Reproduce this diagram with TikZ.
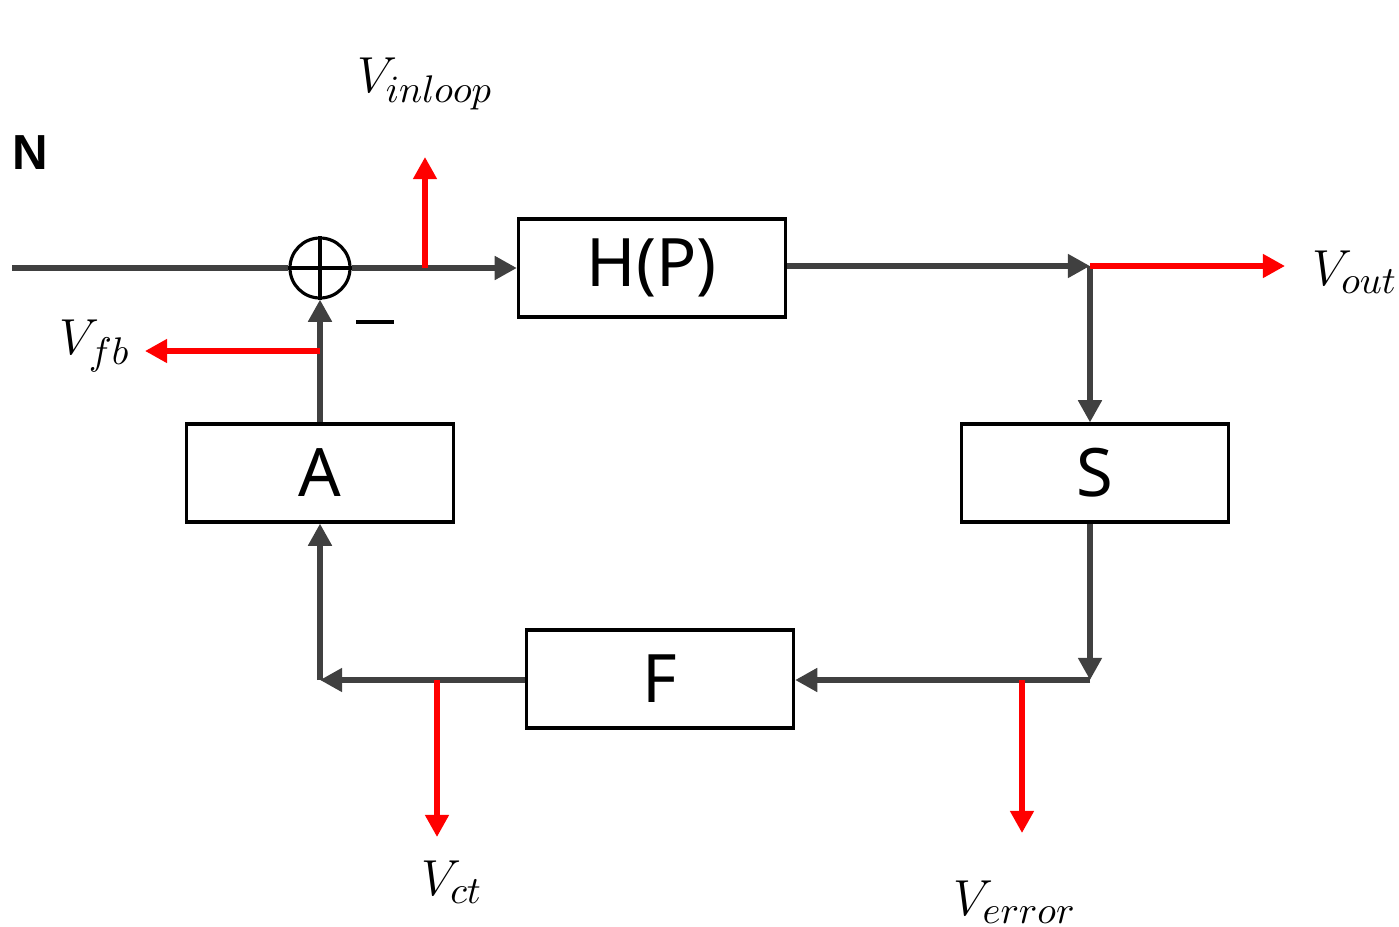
\documentclass[tikz,border=0pt]{standalone}
\usepackage{amsmath}
\usepackage{fontspec}
\setsansfont{Noto Sans}
\newfontfamily\nfont{Liberation Sans}
\usepackage{xcolor}
\usetikzlibrary{arrows.meta,positioning}

\definecolor{wiregray}{HTML}{404040}

\begin{document}
\begin{tikzpicture}[
    x=0.01cm, y=-0.01cm,
    >={Triangle[length=6.3pt,width=6.5pt]},
    every node/.style={font=\fontsize{15}{18}\selectfont},
    block/.style={draw,line width=0.9pt,minimum width=2.67cm,minimum height=0.98cm,
        font=\fontsize{19}{23}\selectfont\sffamily},
    wire/.style={draw=wiregray,line width=1.5pt},
    tap/.style={draw=red,line width=1.5pt}
]
\useasboundingbox (0,0) rectangle (1399,927);

% blocks
\node[block] (hp) at (652,268) {H(P)};
\node[block] (s) at (1095,473) {S};
\node[block] (f) at (660,679) {F};
\node[block] (a) at (320,473) {A};

% summing junction
\node[draw,circle,line width=0.9pt,minimum size=0.6cm,inner sep=0pt] (sum) at (320,268) {};
\draw[line width=0.9pt] (sum.north) -- (sum.south) (sum.west) -- (sum.east);

\node[font=\fontsize{14}{16}\selectfont\nfont\bfseries] (n) at (30,153) {N};
\node[inner sep=0pt] (minus) at (375,322) {\rule{0.37cm}{1.4pt}};

% corner points
\coordinate (in) at (12,268);
\coordinate (jo) at (1090,266);
\coordinate (jb) at (1090,680);
\coordinate (ja) at (320,680);

% loop
\draw[wire] (in) -- (sum.west);
\draw[wire,->] (sum.east) -- (sum.east -| hp.west);
\draw[wire,->] (hp.east |- jo) -- (jo);
\draw[wire,->] (jo) -- (jo |- s.north);
\draw[wire,->] (jo |- s.south) -- (jb);
\draw[wire,->] (jb) -- (jb -| f.east);
\draw[wire,->] (f.west |- ja) -- (ja);
\draw[wire,->] (ja) -- (a.south);
\draw[wire,->] (a.north) -- (sum.south);

% measurement points
\coordinate (tin) at (425,268);
\coordinate (tfb) at (320,351);
\coordinate (tct) at (437,680);
\coordinate (ter) at (1022,680);

\draw[tap,->] (tin) -- ++(0,-111) coordinate (inl);
\draw[tap,->] (jo) -- ++(195,0) coordinate (out);
\draw[tap,->] (tfb) -- ++(-175,0) coordinate (fb);
\draw[tap,->] (tct) -- ++(0,157) coordinate (ct);
\draw[tap,->] (ter) -- ++(0,153) coordinate (err);

% labels
\node (linl) at (425,84) {$V_{inloop}$};
\node (lout) at (1355,272) {$V_{out}$};
\node (lfb) at (95,346) {$V_{fb}$};
\node (lct) at (452,882) {$V_{ct}$};
\node (lerr) at (1015,902) {$V_{error}$};

\end{tikzpicture}
\end{document}
